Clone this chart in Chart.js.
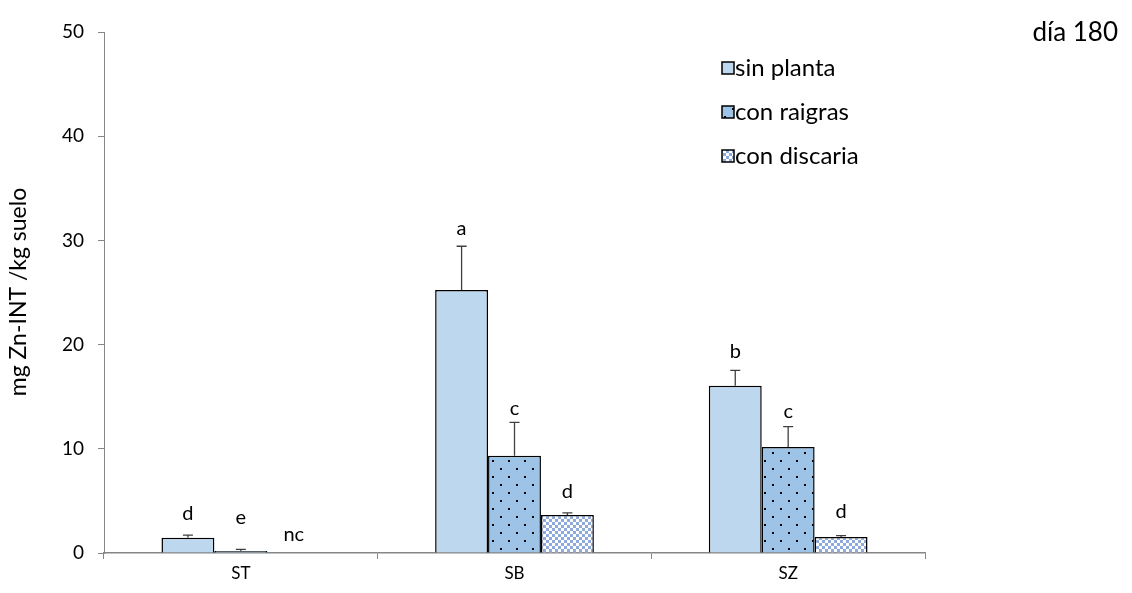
<!DOCTYPE html>
<html>
<head>
<meta charset="utf-8">
<script src="https://cdn.jsdelivr.net/npm/chart.js@4.4.1/dist/chart.umd.min.js"></script>
<style>
  html, body { margin: 0; padding: 0; background: #ffffff; }
  #wrap { width: 1132px; height: 593px; position: relative; }
</style>
</head>
<body>
<div id="wrap"><canvas id="c" width="1132" height="593"></canvas></div>
<script>
// Suelos (categorías) y series
const categories = ['ST', 'SB', 'SZ'];
const seriesNames = ['sin planta', 'con raigras', 'con discaria'];

// mg Zn-INT / kg suelo, día 180
const sinPlanta   = [1.47, 25.24, 16.06];
const conRaigras  = [0.19, 9.34, 10.17];
const conDiscaria = [0.05, 3.65, 1.54];

// Error estándar
const errSinPlanta   = [0.25, 4.2, 1.47];
const errConRaigras  = [0.15, 3.2, 1.95];
const errConDiscaria = [0.0, 0.2, 0.12];

// Letras de significancia
const letrasSinPlanta   = ['d', 'a', 'b'];
const letrasConRaigras  = ['e', 'c', 'c'];
const letrasConDiscaria = ['nc', 'd', 'd'];

// Separación (px) entre extremo de la barra de error y la letra
const sepSinPlanta   = [22, 18, 19];
const sepConRaigras  = [32, 14, 15];
const sepConDiscaria = [18, 21, 24];

const yTicks = [0, 10, 20, 30, 40, 50];
const panelTitle = 'día 180';
const yTitle = 'mg Zn-INT /kg suelo';

const FONT = 'Lato, "Open Sans", "DejaVu Sans", sans-serif';

// Tramas de relleno
function dotPattern() {
  const t = document.createElement('canvas');
  t.width = 16; t.height = 16;
  const g = t.getContext('2d');
  g.fillStyle = '#9DC3E6';
  g.fillRect(0, 0, 16, 16);
  g.fillStyle = '#000000';
  g.fillRect(4, 4, 2, 2);
  g.fillRect(12, 12, 2, 2);
  return g.createPattern(t, 'repeat');
}
function checkerPattern() {
  const t = document.createElement('canvas');
  t.width = 6; t.height = 6;
  const g = t.getContext('2d');
  g.fillStyle = '#ffffff';
  g.fillRect(0, 0, 6, 6);
  g.fillStyle = '#8EA9DB';
  g.fillRect(0, 0, 3, 3);
  g.fillRect(3, 3, 3, 3);
  return g.createPattern(t, 'repeat');
}

const fills = ['#BDD7EE', dotPattern(), checkerPattern()];
const values = [sinPlanta, conRaigras, conDiscaria];
const errors = [errSinPlanta, errConRaigras, errConDiscaria];
const letters = [letrasSinPlanta, letrasConRaigras, letrasConDiscaria];
const seps = [sepSinPlanta, sepConRaigras, sepConDiscaria];

// Barras de error y letras
const errorBarsPlugin = {
  id: 'errorBars',
  afterDatasetsDraw(chart) {
    const ctx = chart.ctx;
    const y = chart.scales.y;
    chart.data.datasets.forEach((ds, di) => {
      const meta = chart.getDatasetMeta(di);
      meta.data.forEach((bar, i) => {
        const v = ds.data[i];
        const e = errors[di][i];
        const yTop = y.getPixelForValue(v);
        const yErr = y.getPixelForValue(v + e);
        ctx.save();
        if (e > 0) {
          ctx.strokeStyle = '#404040';
          ctx.lineWidth = 1.3;
          ctx.beginPath();
          ctx.moveTo(bar.x, yTop);
          ctx.lineTo(bar.x, yErr);
          ctx.moveTo(bar.x - 5, yErr);
          ctx.lineTo(bar.x + 5, yErr);
          ctx.stroke();
        }
        ctx.fillStyle = '#000000';
        ctx.font = '20px ' + FONT;
        ctx.textAlign = 'center';
        ctx.textBaseline = 'middle';
        ctx.fillText(letters[di][i], bar.x, yErr - seps[di][i]);
        ctx.restore();
      });
    });
  }
};

// Leyenda, título del panel y título del eje Y
const annotPlugin = {
  id: 'annot',
  afterDraw(chart) {
    const ctx = chart.ctx;
    ctx.save();
    // leyenda
    const lx = 722, rows = [68, 112, 156];
    chart.data.datasets.forEach((ds, di) => {
      const cy = rows[di];
      ctx.fillStyle = ds.backgroundColor;
      ctx.fillRect(lx, cy - 6, 12, 12);
      ctx.strokeStyle = '#000000';
      ctx.lineWidth = 1.5;
      ctx.strokeRect(lx, cy - 6, 12, 12);
      ctx.fillStyle = '#000000';
      ctx.font = '24px ' + FONT;
      ctx.textAlign = 'left';
      ctx.textBaseline = 'middle';
      ctx.fillText(ds.label, lx + 13, cy);
    });
    // título del panel
    ctx.font = '26px ' + FONT;
    ctx.textAlign = 'right';
    ctx.textBaseline = 'middle';
    ctx.fillText(panelTitle, 1118, 33);
    // título del eje Y
    ctx.translate(19, 292);
    ctx.rotate(-Math.PI / 2);
    ctx.font = '23px ' + FONT;
    ctx.textAlign = 'center';
    ctx.fillText(yTitle, 0, 0);
    ctx.restore();
  }
};

new Chart(document.getElementById('c'), {
  type: 'bar',
  data: {
    labels: categories,
    datasets: values.map((vals, di) => ({
      label: seriesNames[di],
      data: vals,
      backgroundColor: fills[di],
      borderColor: '#000000',
      borderWidth: 1.5,
      borderSkipped: 'bottom',
      categoryPercentage: 0.58,
      barPercentage: 1.0
    }))
  },
  options: {
    responsive: false,
    animation: false,
    layout: { padding: { left: 0, right: 207, top: 32, bottom: 0 } },
    plugins: {
      legend: { display: false },
      title: { display: false },
      tooltip: { enabled: false }
    },
    scales: {
      x: {
        afterFit(s) { s.height = 40; },
        grid: { display: true, drawOnChartArea: false, offset: true, color: '#868686', tickLength: 6, lineWidth: 1 },
        border: { color: '#868686', width: 1.5 },
        ticks: { color: '#000000', font: { family: FONT, size: 17 }, padding: 4 }
      },
      y: {
        min: 0, max: 50,
        afterFit(s) { s.width = 104; },
        afterBuildTicks(s) { s.ticks = yTicks.map(v => ({ value: v })); },
        grid: { display: true, drawOnChartArea: false, color: '#868686', tickLength: 6, lineWidth: 1 },
        border: { color: '#868686', width: 1 },
        ticks: { color: '#000000', font: { family: FONT, size: 19 }, padding: 14 }
      }
    }
  },
  plugins: [errorBarsPlugin, annotPlugin]
});
</script>
</body>
</html>
